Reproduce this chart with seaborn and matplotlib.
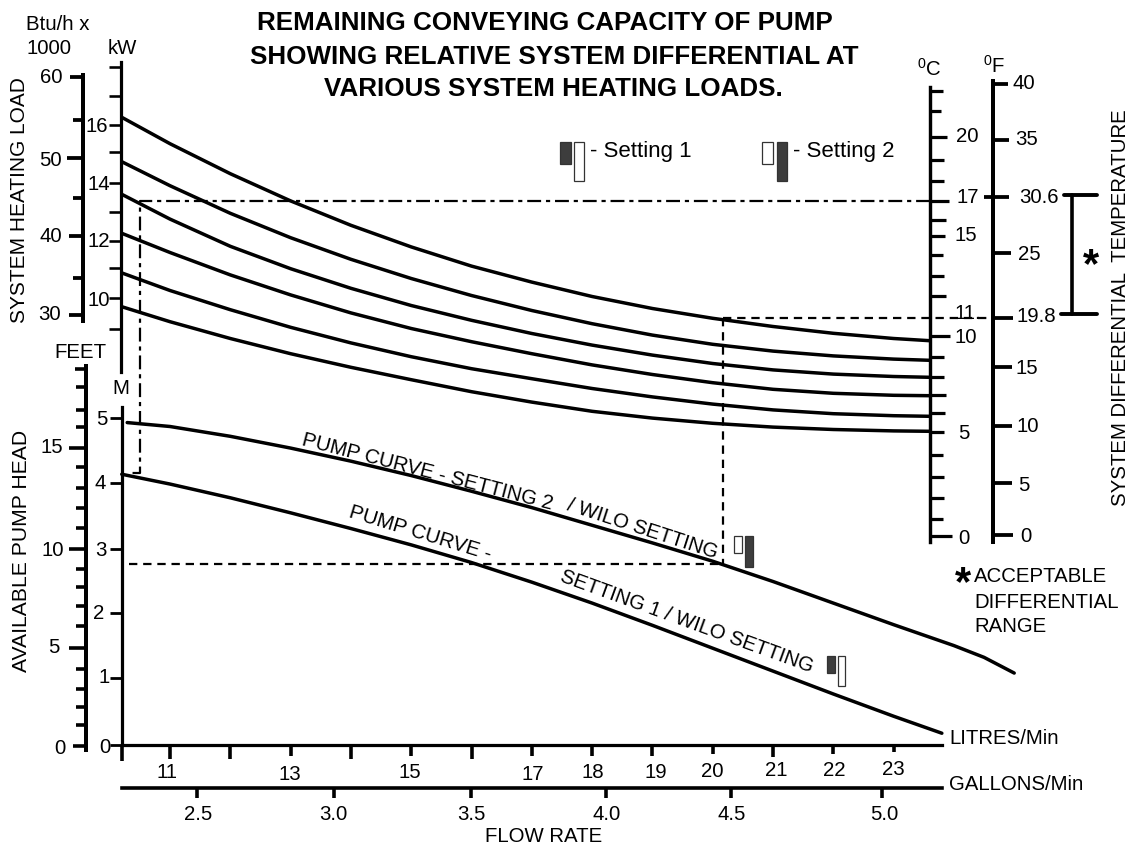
import matplotlib
matplotlib.use("Agg")
import matplotlib.pyplot as plt
from matplotlib.patches import Rectangle
from matplotlib.transforms import Affine2D
import numpy as np
import pandas as pd
import seaborn as sns

# ---------- data ----------
load_flow = [10.2, 11, 12, 13, 14, 15, 16, 17, 18, 19, 20, 21, 22, 23, 23.6]
load_1 = [20.96, 19.64, 18.14, 16.78, 15.56, 14.48, 13.52, 12.72, 12.0, 11.40, 10.91, 10.50, 10.16, 9.90, 9.79]
load_2 = [18.74, 17.54, 16.16, 14.94, 13.86, 12.90, 12.05, 11.30, 10.64, 10.07, 9.61, 9.27, 9.03, 8.87, 8.81]
load_3 = [17.11, 15.87, 14.51, 13.39, 12.41, 11.55, 10.81, 10.15, 9.57, 9.07, 8.65, 8.33, 8.12, 8.0, 7.96]
load_4 = [15.16, 14.2, 13.08, 12.08, 11.18, 10.40, 9.74, 9.14, 8.58, 8.10, 7.69, 7.36, 7.16, 7.06, 7.04]
load_5 = [13.18, 12.3, 11.34, 10.46, 9.68, 8.99, 8.39, 7.89, 7.40, 6.98, 6.62, 6.33, 6.14, 6.04, 6.01]
load_6 = [11.49, 10.74, 9.90, 9.14, 8.46, 7.84, 7.24, 6.72, 6.26, 5.92, 5.66, 5.47, 5.35, 5.28, 5.26]

pump2_flow = [10.29, 11, 12, 13, 14, 15, 16, 17, 18, 19, 20, 21, 22, 23, 24, 24.5, 25.0]
pump2_head = [4.93, 4.87, 4.72, 4.54, 4.34, 4.12, 3.88, 3.63, 3.36, 3.09, 2.81, 2.50, 2.17, 1.84, 1.52, 1.34, 1.10]
pump1_flow = [10.2, 11, 12, 13, 14, 15, 16, 17, 18, 19, 20, 21, 22, 23, 23.8]
pump1_head = [4.14, 3.99, 3.78, 3.55, 3.31, 3.06, 2.79, 2.49, 2.17, 1.83, 1.48, 1.13, 0.78, 0.44, 0.18]

guide_flow_a = [23.6, 10.5, 10.5, 10.3]      # dash-dot guide
guide_degc_a = [16.78, 16.78, 3.18, 3.18]
guide_flow_b = [20.17, 20.17]                # dashed guide, vertical
guide_degc_b = [10.93, -1.4]
guide_flow_c = [20.17, 24.62]                # dashed guide, to the F scale
guide_degc_c = [10.93, 10.93]
guide_flow_d = [10.32, 20.17]                # dashed guide, to the head scale
guide_head_d = [2.76, 2.76]

litre_ticks = [10.204, 11, 12, 13, 14, 15, 16, 17, 18, 19, 20, 21, 22, 23]
litre_labels = ["", "11", "", "13", "", "15", "", "17", "18", "19", "20", "21", "22", "23"]
gallon_ticks = [2.5, 3.0, 3.499, 3.993, 4.449, 5.0]
gallon_labels = ["2.5", "3.0", "3.5", "4.0", "4.5", "5.0"]
head_m_ticks = [0, 1.03, 2.02, 3.0, 4.0, 5.0]
head_m_labels = ["0", "1", "2", "3", "4", "5"]
head_ft_ticks = [0, 1.04, 1.96, 2.85, 3.85, 4.92, 6.0, 7.03, 7.95, 8.9, 9.88, 10.95, 11.94, 12.96, 14.0, 14.98, 15.99, 16.87, 18.0, 18.95]
head_ft_labels = ["0", "", "", "", "", "5", "", "", "", "", "10", "", "", "", "", "15", "", "", "", ""]
btu_ticks = [30, 34.67, 39.96, 44.75, 49.8, 54.6, 60]
btu_labels = ["30", "", "40", "", "50", "", "60"]
kw_ticks = [8.92, 10, 11.03, 11.98, 12.98, 13.99, 15.06, 16, 17, 18.02]
kw_labels = ["", "10", "", "12", "", "14", "", "16", "", ""]
degc_ticks = [0, 0.89, 1.93, 2.98, 4.08, 5.24, 6.18, 7.06, 7.98, 8.98, 10.03, 10.98, 12.03, 13.03, 14.08, 15.03, 15.83, 16.78, 17.78, 18.84, 19.98, 21.28, 22.29]
degc_labels = ["0", "", "", "", "", "5", "", "", "", "", "10", "11.", "", "", "", "15", "", "17", "", "", "20", "", ""]
degf_ticks = [0, 4.61, 9.69, 14.9, 19.25, 25.0, 29.97, 35.0, 40]
degf_labels = ["0", "5", "10", "15", "19.8", "25", "30.6", "35", "40"]

# ---------- styles ----------
W, H = 1135, 846
sns.set_theme(style="white")
plt.rcParams["font.family"] = ["Liberation Sans", "DejaVu Sans"]
plt.rcParams["mathtext.default"] = "regular"
plt.rcParams["lines.scale_dashes"] = False
TXT = 14.7
CURVE_LW = 2.5
DASH = (0, (6, 4.2))
DASHDOT = (0, (10, 3.5, 3, 3.5))
LABEL_DY = 1.0     # glyph centre sits a little above the layout centre

fig = plt.figure(figsize=(W / 100, H / 100), dpi=100, facecolor="white")


def ax_px(x0, x1, ytop, ybot):
    ax = fig.add_axes([x0 / W, 1 - ybot / H, (x1 - x0) / W, (ybot - ytop) / H])
    ax.patch.set_alpha(0)
    for s in ax.spines.values():
        s.set_visible(False)
    ax.set_xticks([])
    ax.set_yticks([])
    return ax


def vscale(x, ytop, ybot, lim, ticks, labels, lens, centers, side, lw, tw):
    """A vertical scale drawn as an axes of its own; centers are label centres in px."""
    ax = ax_px(x, x + 1, ytop, ybot)
    ax.set_ylim(lim)
    ax.spines["left"].set_visible(True)
    ax.spines["left"].set_linewidth(lw * 0.72)
    ax.spines["left"].set_color("black")
    L0 = 10
    out = side == "left"
    ax.tick_params(axis="y", which="major", left=True, direction="out" if out else "in", length=L0,
                   width=tw * 0.72, pad=-L0 if out else 0, labelsize=TXT, color="black", labelcolor="black")
    ax.set_yticks(ticks, labels)
    it = iter(centers)
    for tick, val, text, ln in zip(ax.yaxis.get_major_ticks(), ticks, labels, lens):
        tick.tick1line.set_markersize(ln * 0.72)
        lab = tick.label1
        lab.set_ha("center")
        lab.set_va("center")
        if text:
            cx, cy = next(it)
            ytick = ybot - (val - lim[0]) / (lim[1] - lim[0]) * (ybot - ytop)
            lab.set_transform(lab.get_transform() + Affine2D().translate(cx - x, -(cy + LABEL_DY - ytick)))
    return ax


def hlabels(ax, xpx0, xpx1, lim, ybase, ticks, labels, lens, centers, tw):
    ax.tick_params(axis="x", which="major", bottom=True, direction="out", length=10, width=tw * 0.72,
                   pad=-10, labelsize=TXT, color="black", labelcolor="black")
    ax.set_xticks(ticks, labels)
    it = iter(centers)
    for tick, val, text, ln in zip(ax.xaxis.get_major_ticks(), ticks, labels, lens):
        tick.tick1line.set_markersize(ln * 0.72)
        lab = tick.label1
        lab.set_ha("center")
        lab.set_va("center")
        if text:
            cx, cy = next(it)
            xtick = xpx0 + (val - lim[0]) / (lim[1] - lim[0]) * (xpx1 - xpx0)
            lab.set_transform(lab.get_transform() + Affine2D().translate(cx - xtick, -(cy + LABEL_DY - ybase)))


# ---------- curves ----------
LIM_X = (10.204, 25.096)
load_ax = ax_px(122, 1020, 60, 745)
load_ax.set_xlim(LIM_X)
load_ax.set_ylim(-10.425, 23.825)
load_df = pd.DataFrame({
    "flow": load_flow * 6,
    "degc": load_1 + load_2 + load_3 + load_4 + load_5 + load_6,
    "curve": np.repeat(range(6), len(load_flow)),
})
sns.lineplot(data=load_df, x="flow", y="degc", units="curve", estimator=None, color="black",
             linewidth=CURVE_LW, ax=load_ax, legend=False, sort=False, clip_on=False)
load_ax.plot(guide_flow_a, guide_degc_a, color="black", lw=1.6, ls=DASHDOT, clip_on=False)
load_ax.plot(guide_flow_b, guide_degc_b, color="black", lw=1.6, ls=DASH, clip_on=False)
load_ax.plot(guide_flow_c, guide_degc_c, color="black", lw=1.6, ls=DASH, clip_on=False)
load_ax.set_xlabel("")
load_ax.set_ylabel("")
load_ax.set_xlim(LIM_X)
load_ax.set_ylim(-10.425, 23.825)
load_ax.set_xticks([])
load_ax.set_yticks([])

pump_ax = ax_px(122, 1020, 60, 745)
LIM_M = (0, 10.474)
pump_ax.set_xlim(LIM_X)
pump_ax.set_ylim(LIM_M)
pump_df = pd.DataFrame({
    "flow": pump2_flow + pump1_flow,
    "head": pump2_head + pump1_head,
    "curve": ["setting 2"] * len(pump2_flow) + ["setting 1"] * len(pump1_flow),
})
sns.lineplot(data=pump_df, x="flow", y="head", units="curve", estimator=None, color="black",
             linewidth=CURVE_LW, ax=pump_ax, legend=False, sort=False, clip_on=False)
pump_ax.plot(guide_flow_d, guide_head_d, color="black", lw=1.6, ls=DASH, clip_on=False)
pump_ax.set_xlabel("")
pump_ax.set_ylabel("")
pump_ax.set_xlim(LIM_X)
pump_ax.set_ylim(LIM_M)

# metre scale + litre scale belong to the pump axes
for name, bounds in (("left", (0, 5.17)), ("bottom", (LIM_X[0], 23.8))):
    sp = pump_ax.spines[name]
    sp.set_visible(True)
    sp.set_bounds(*bounds)
    sp.set_linewidth(3.2 * 0.72)
    sp.set_color("black")
pump_ax.tick_params(axis="y", which="major", left=True, direction="out", length=9, width=2.8 * 0.72,
                    pad=-9, labelsize=TXT, color="black", labelcolor="black")
pump_ax.set_yticks(head_m_ticks, head_m_labels)
m_centers = [(105, 746.7), (104.5, 676.7), (99, 613), (101, 550), (100, 483), (101.7, 419)]
for val, lab, (cx, cy) in zip(head_m_ticks, pump_ax.get_yticklabels(), m_centers):
    lab.set_ha("center")
    lab.set_va("center")
    ytick = 745 - val * 65.4
    lab.set_transform(lab.get_transform() + Affine2D().translate(cx - 122, -(cy + LABEL_DY - ytick)))
hlabels(pump_ax, 122, 1020, LIM_X, 745, litre_ticks, litre_labels,
        [16, 14, 14, 11, 14, 11, 14, 11, 11, 11, 9, 12, 9, 7],
        [(167, 771.7), (290, 773), (410, 771.7), (533, 773), (592.7, 771), (656, 771),
         (712.7, 770.7), (776, 769), (834, 769), (893, 768)], 3.6)

# gallon scale
gal_lim = (2.226, 5.219)
gal_ax = ax_px(122, 942, 786.5, 787.5)
gal_ax.set_xlim(gal_lim)
gal_ax.spines["bottom"].set_visible(True)
gal_ax.spines["bottom"].set_linewidth(3.6 * 0.72)
gal_ax.spines["bottom"].set_color("black")
hlabels(gal_ax, 122, 942, gal_lim, 787.5, gallon_ticks, gallon_labels, [10] * 6,
        [(198, 813), (333, 813), (471, 813), (606.7, 813), (731.7, 813), (884, 813)], 3.6)

# ---------- vertical scales ----------
vscale(82.7, 75, 321, (29.25, 60.25), btu_ticks, btu_labels, [14, 10, 14, 10, 16, 10, 13],
       [(49.3, 314), (50.7, 235), (50, 159), (51, 76.7)], "left", 4, 3.8)
vscale(121, 62, 372, (7.42, 18.19), kw_ticks, kw_labels, [12] * 10,
       [(99, 299), (99, 240.7), (99, 183), (97, 125)], "left", 3.2, 2.6)
vscale(86, 366, 750, (-0.216, 19.08), head_ft_ticks, head_ft_labels,
       [13, 10, 10, 10, 10, 17, 10, 10, 10, 10, 17, 10, 10, 10, 10, 17, 10, 10, 10, 11],
       [(60, 747), (54.3, 646.7), (52.7, 549), (51.7, 446.7)], "left", 4, 3.6)
vscale(930, 87, 541.7, (-0.26, 22.47), degc_ticks, degc_labels,
       [22, 13, 14, 14, 13, 14, 15, 16, 14, 14, 20, 0, 16, 14, 13, 15, 16, 19, 14, 14, 17, 11, 13],
       [(964, 538), (964, 432.7), (966, 336.7), (968, 313), (966, 235), (967.7, 196.7), (967.7, 135)],
       "right", 3.4, 3.2)
f_ax = vscale(992.7, 81, 541.7, (-0.594, 40.27), degf_ticks, degf_labels,
              [20, 19, 19, 19, 20, 18, 16, 16, 15],
              [(1026, 535), (1024, 484), (1027.7, 425.7), (1027, 367), (1036, 315), (1029, 253.7),
               (1039, 196.7), (1027, 138.7), (1024, 82.7)], "right", 4, 3.8)
f_ax.yaxis.remove_overlapping_locs = False
f_ax.set_yticks([29.97], minor=True)
f_ax.tick_params(axis="y", which="minor", left=True, direction="out", length=6.5,
                 width=3.8 * 0.72, color="black")

# ---------- annotations in pixel space ----------
ov = ax_px(0, W, 0, H)
ov.set_xlim(0, W)
ov.set_ylim(H, 0)


def t(x, y, s, ha="left", va="center", size=TXT, **kw):
    ov.text(x, y, s, ha=ha, va=va, fontsize=size, color="black", **kw)


t(545, 23, "REMAINING CONVEYING CAPACITY OF PUMP", ha="center", size=18.7, fontweight="bold")
t(554, 56.5, "SHOWING RELATIVE SYSTEM DIFFERENTIAL AT", ha="center", size=18.7, fontweight="bold")
t(553, 89.5, "VARIOUS SYSTEM HEATING LOADS.", ha="center", size=18.7, fontweight="bold")
t(26, 24, "Btu/h x")
t(26, 49, "1000")
t(108, 49, "kW")
t(54, 352, "FEET")
t(121, 389, "M", ha="center")
t(20, 200, "SYSTEM HEATING LOAD", ha="center", size=15.0, rotation=90)
t(22, 551, "AVAILABLE PUMP HEAD", ha="center", size=15.2, rotation=90)
t(1121, 307.5, "SYSTEM DIFFERENTIAL  TEMPERATURE", ha="center", size=14.7, rotation=90)
t(929, 69, "$^{0}$C", ha="center")
t(994, 66, "$^{0}$F", ha="center")
t(949, 738, "LITRES/Min")
t(949, 785, "GALLONS/Min")
t(544, 836, "FLOW RATE", ha="center")
t(974, 577, "ACCEPTABLE")
t(974, 602, "DIFFERENTIAL")
t(974, 627, "RANGE")
t(590, 152, "- Setting 1", size=16)
t(793, 152, "- Setting 2", size=16)
t(963, 584, "*", ha="center", size=30, fontweight="bold")
t(1091, 266, "*", ha="center", size=30, fontweight="bold")

for (x, y, s, r) in [(427, 472.3, "PUMP CURVE - SETTING 2", -14.5),
                     (642, 529, "/ WILO SETTING", -18),
                     (420, 533, "PUMP CURVE -", -17),
                     (686.7, 621.7, "SETTING 1 / WILO SETTING", -20)]:
    t(x, y, s, ha="center", rotation=r, rotation_mode="anchor")

# acceptable range bracket
ov.plot([1072, 1072], [195, 314], color="black", lw=2.6)
ov.plot([1064, 1097], [195, 195], color="black", lw=2.8)
ov.plot([1061, 1097], [314, 314], color="black", lw=2.8)

# valve setting symbols
DARK = "#3d3d3d"
for (x0, x1, y0, y1, fc) in [(560, 570.5, 142, 164, DARK), (574, 584, 142, 181.5, "white"),
                             (762, 772.5, 142, 164, "white"), (776.7, 786.7, 142, 181.5, DARK),
                             (734, 742, 536, 553, "white"), (745, 752.7, 536, 566.7, DARK),
                             (827, 835, 655.7, 672.7, DARK), (838, 845.3, 655.7, 685.7, "white")]:
    ov.add_patch(Rectangle((x0, y0), x1 - x0, y1 - y0, facecolor=fc, edgecolor="#333333", lw=0.9))

fig.savefig("out.png", dpi=100)
